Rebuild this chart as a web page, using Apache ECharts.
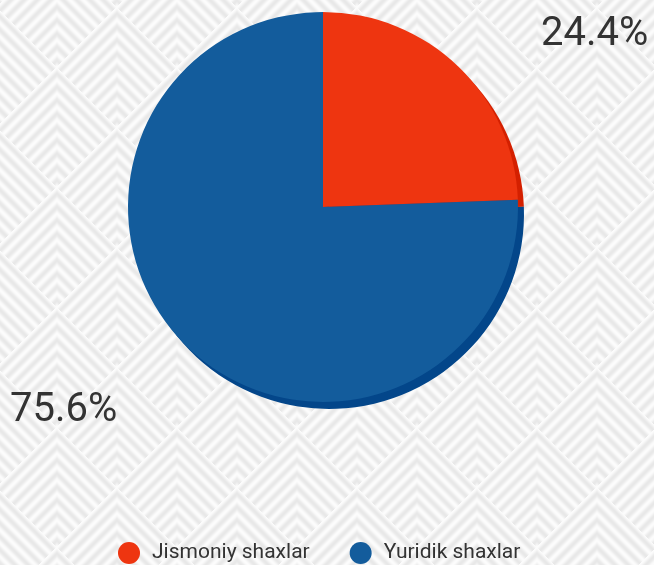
<!DOCTYPE html>
<html>
<head>
<meta charset="utf-8">
<script src="https://cdn.jsdelivr.net/npm/echarts@6/dist/echarts.min.js"></script>
<style>
  html, body { margin: 0; padding: 0; }
  #chart { width: 654px; height: 565px; }
</style>
</head>
<body>
<div id="chart"></div>
<script>
const categories = ['Jismoniy shaxlar', 'Yuridik shaxlar']
const shares = [24.4, 75.6]
const colors = ['#ee3510', '#135c9c']
const shadeColors = ['#d42000', '#03468a']

// chevron background tile
function makePattern() {
  const T = 120, H = 60, P = 120 / 9, ox = 57, oy = 67
  const cv = document.createElement('canvas')
  cv.width = cv.height = T
  const ctx = cv.getContext('2d')
  const img = ctx.createImageData(T, T)
  for (let y = 0; y < T; y++) {
    for (let x = 0; x < T; x++) {
      let s = 0
      for (let a = -3; a <= 3; a++) {
        for (let b = -3; b <= 3; b++) {
          if ((a + b) % 2 !== 0) continue
          const px = ox + 60 * a, py = oy + 60 * b
          if (Math.abs(x + 0.5 - px) + Math.abs(y + 0.5 - py - H) <= H) {
            s = (y + 0.5 - py) - Math.abs(x + 0.5 - px)
          }
        }
      }
      let t = 0.5 - 0.5 * Math.cos(2 * Math.PI * s / P)
      const c = Math.round(252 - t * 20)
      const i = (y * T + x) * 4
      img.data[i] = img.data[i + 1] = img.data[i + 2] = c
      img.data[i + 3] = 255
    }
  }
  ctx.putImageData(img, 0, 0)
  return cv
}

const labelSpots = [
  { x: 541, y: 35, align: 'left' },
  { x: 10, y: 411, align: 'left' }
]

const chart = echarts.init(document.getElementById('chart'))
chart.setOption({
  backgroundColor: { image: makePattern(), repeat: 'repeat' },
  animation: false,
  legend: {
    data: categories,
    left: 118,
    top: 542,
    padding: 0,
    icon: 'circle',
    itemWidth: 22,
    itemHeight: 22,
    itemGap: 40,
    textStyle: {
      fontFamily: 'Roboto',
      fontSize: 21,
      color: '#333',
      padding: [0, 0, 0, 7]
    }
  },
  series: [
    {
      name: 'main',
      type: 'pie',
      z: 3,
      center: [323, 207],
      radius: 195,
      startAngle: 90,
      percentPrecision: 1,
      data: categories.map((n, i) => ({ name: n, value: shares[i], itemStyle: { color: colors[i] } })),
      label: {
        show: true,
        position: 'outside',
        formatter: '{d}%',
        fontFamily: 'Roboto',
        fontSize: 40,
        color: '#333'
      },
      labelLine: { show: false },
      labelLayout: function (p) {
        const s = labelSpots[p.dataIndex]
        return { x: s.x, y: s.y, align: s.align, verticalAlign: 'middle' }
      },
      emphasis: { disabled: true }
    },
    {
      name: 'shade',
      type: 'pie',
      z: 1,
      silent: true,
      center: [329, 214],
      radius: 195,
      startAngle: 90,
      data: categories.map((n, i) => ({ name: n, value: shares[i], itemStyle: { color: shadeColors[i] } })),
      label: { show: false },
      labelLine: { show: false }
    }
  ]
})
</script>
</body>
</html>
